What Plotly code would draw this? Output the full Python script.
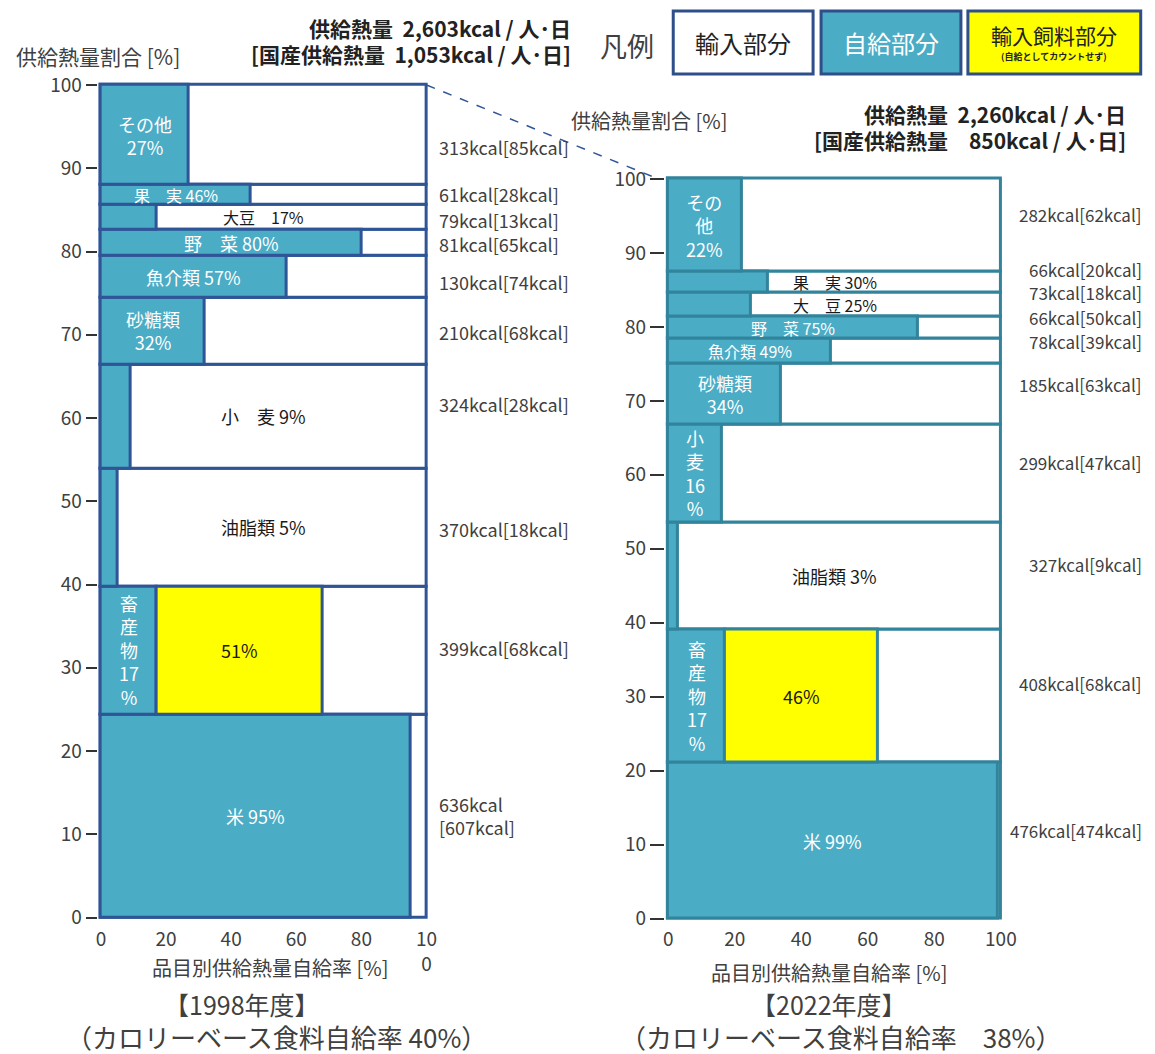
import plotly.graph_objects as go

# ---------------- data ----------------
categories = ["米", "畜産物", "油脂類", "小麦", "砂糖類", "魚介類", "野菜", "大豆", "果実", "その他"]

kcal_1998 = [636, 399, 370, 324, 210, 130, 81, 79, 61, 313]
domestic_1998 = [607, 68, 18, 28, 68, 74, 65, 13, 28, 85]
rate_1998 = [95, 17, 5, 9, 32, 57, 80, 17, 46, 27]
feed_1998 = [None, 51, None, None, None, None, None, None, None, None]
labels_1998 = ["米 95%", "畜<br>産<br>物<br>17<br>%", "油脂類 5%", "小　麦 9%", "砂糖類<br>32%",
               "魚介類 57%", "野　菜 80%", "大豆　17%", "果　実 46%", "その他<br>27%"]
label_on_blue_1998 = [True, True, False, False, True, True, True, False, True, True]
kcal_text_1998 = ["636kcal<br>[607kcal]", "399kcal[68kcal]", "370kcal[18kcal]", "324kcal[28kcal]",
                  "210kcal[68kcal]", "130kcal[74kcal]", "81kcal[65kcal]", "79kcal[13kcal]",
                  "61kcal[28kcal]", "313kcal[85kcal]"]

kcal_2022 = [476, 408, 327, 299, 185, 78, 66, 73, 66, 282]
domestic_2022 = [474, 68, 9, 47, 63, 39, 50, 18, 20, 62]
rate_2022 = [99, 17, 3, 16, 34, 49, 75, 25, 30, 22]
feed_2022 = [None, 46, None, None, None, None, None, None, None, None]
labels_2022 = ["米 99%", "畜<br>産<br>物<br>17<br>%", "油脂類 3%", "小<br>麦<br>16<br>%", "砂糖類<br>34%",
               "魚介類 49%", "野　菜 75%", "大　豆 25%", "果　実 30%", "その<br>他<br>22%"]
label_on_blue_2022 = [True, True, False, True, True, True, True, False, False, True]
kcal_text_2022 = ["476kcal[474kcal]", "408kcal[68kcal]", "327kcal[9kcal]", "299kcal[47kcal]",
                  "185kcal[63kcal]", "78kcal[39kcal]", "66kcal[50kcal]", "73kcal[18kcal]",
                  "66kcal[20kcal]", "282kcal[62kcal]"]

total_1998, domestic_total_1998, overall_1998 = "2,603", "1,053", 40
total_2022, domestic_total_2022, overall_2022 = "2,260", "850", 38

x_ticks = [0, 20, 40, 60, 80, 100]
x_ticktext_1998 = ["0", "20", "40", "60", "80", "10<br>0"]
x_ticktext_2022 = ["0", "20", "40", "60", "80", "100"]
y_ticks = [0, 10, 20, 30, 40, 50, 60, 70, 80, 90, 100]

# ---------------- style / layout ----------------
W, H = 1155, 1054
# the photographed page shows the figure slightly scaled and shifted; compensate
S, OX, OY = 0.989, 0.0, 7.0
FONT = "Noto Sans CJK JP"
BLUE = "#4BACC6"
YELLOW = "#FFFF00"
TXT = "#404040"
EDGE_L = "#2F5597"
EDGE_R = "#31849B"
PAD = 1.0

# pixel frames of the two plots (position of data 0 and 100), picture coordinates
LEFT = dict(x0=99, x100=425, y0=917, y100=84)
RIGHT = dict(x0=667, x100=1000, y0=918, y100=178)

# per-row vertical nudges of the kcal labels (pixels, positive = up)
kcal_dy_left = [0, 2, -2, 12, -1, -5, -1, -3, 1, -12]
kcal_dy_right = [10, 13, 11, 11, 10, 10, 10, 12, 13, 11]


def px(x):
    return ((x - OX) / S) / W


def py(y):
    return 1 - ((y - OY) / S) / H


def domains(f):
    sx = (f["x100"] - f["x0"]) / 100
    sy = (f["y0"] - f["y100"]) / 100
    xd = [px(f["x0"] - PAD * sx), px(f["x100"] + PAD * sx)]
    yd = [py(f["y0"] + PAD * sy), py(f["y100"] - PAD * sy)]
    return xd, yd


fig = go.Figure()
annotations = []


def add_panel(kcal, rate, feed, labels, on_blue, ktext, xa, ya, edge, kx, kanchor, kdy, ksize, small_rows):
    total = sum(kcal)
    heights = [k / total * 100 for k in kcal]
    centers = []
    acc = 0
    for h in heights:
        centers.append(acc + h / 2)
        acc += h
    feed_base = [r if f is not None else None for r, f in zip(rate, feed)]
    common = dict(orientation="h", y=centers, width=heights, xaxis=xa, yaxis=ya,
                  hoverinfo="skip", showlegend=False)
    fig.add_trace(go.Bar(x=[100] * len(kcal), base=0,
                         marker=dict(color="white", line=dict(color=edge, width=3)), **common))
    fig.add_trace(go.Bar(x=rate, base=0,
                         marker=dict(color=BLUE, line=dict(color=edge, width=3)), **common))
    fig.add_trace(go.Bar(x=feed, base=feed_base,
                         marker=dict(color=YELLOW, line=dict(color=edge, width=3)), **common))
    xr = "x" if xa == "x" else "x2"
    yr = "y" if ya == "y" else "y2"
    for i in range(len(kcal)):
        fs = 16 if i in small_rows else 18
        if on_blue[i]:
            annotations.append(dict(x=rate[i] / 2, y=centers[i], xref=xr, yref=yr, text=labels[i],
                                    showarrow=False, font=dict(family=FONT, size=fs, color="white")))
        else:
            annotations.append(dict(x=50, y=centers[i], xref=xr, yref=yr, text=labels[i],
                                    showarrow=False, font=dict(family=FONT, size=fs, color="#1a1a1a")))
        if feed[i] is not None:
            annotations.append(dict(x=rate[i] + feed[i] / 2, y=centers[i], xref=xr, yref=yr,
                                    text=f"{feed[i]}%", showarrow=False,
                                    font=dict(family=FONT, size=18, color="#1a1a1a")))
        annotations.append(dict(x=px(kx), y=centers[i], xref="paper", yref=yr, text=ktext[i],
                                xanchor=kanchor, yshift=kdy[i], showarrow=False, align="left",
                                font=dict(family=FONT, size=ksize, color=TXT)))


add_panel(kcal_1998, rate_1998, feed_1998, labels_1998, label_on_blue_1998, kcal_text_1998,
          "x", "y", EDGE_L, 435, "left", kcal_dy_left, 18, [7, 8])
add_panel(kcal_2022, rate_2022, feed_2022, labels_2022, label_on_blue_2022, kcal_text_2022,
          "x2", "y2", EDGE_R, 1143, "right", kcal_dy_right, 17, [5, 6, 7, 8])

xd1, yd1 = domains(LEFT)
xd2, yd2 = domains(RIGHT)
axis_font = dict(family=FONT, size=19, color=TXT)

fig.update_layout(
    width=W, height=H, autosize=False,
    margin=dict(l=0, r=0, t=0, b=0),
    paper_bgcolor="white", plot_bgcolor="white",
    barmode="overlay", bargap=0,
    xaxis=dict(domain=xd1, range=[-PAD, 100 + PAD], tickvals=x_ticks, ticktext=x_ticktext_1998,
               showgrid=False, zeroline=False, showline=False, ticks="", tickfont=axis_font,
               anchor="y", fixedrange=True),
    yaxis=dict(domain=yd1, range=[-PAD, 100 + PAD], tickvals=y_ticks, showgrid=False, zeroline=False,
               showline=False, ticks="outside", ticklen=11, tickwidth=1.5, tickcolor="#333",
               tickfont=axis_font, anchor="x", fixedrange=True),
    xaxis2=dict(domain=xd2, range=[-PAD, 100 + PAD], tickvals=x_ticks, ticktext=x_ticktext_2022,
                showgrid=False, zeroline=False, showline=False, ticks="", tickfont=axis_font,
                anchor="y2", fixedrange=True),
    yaxis2=dict(domain=yd2, range=[-PAD, 100 + PAD], tickvals=y_ticks, showgrid=False, zeroline=False,
                showline=False, ticks="outside", ticklen=14, tickwidth=1.5, tickcolor="#333",
                tickfont=axis_font, anchor="x2", fixedrange=True),
)

# titles and headers
def text(x, y, t, size, color=TXT, anchor="center", bold=False):
    if bold:
        t = f"<b>{t}</b>"
    annotations.append(dict(x=px(x), y=py(y), xref="paper", yref="paper", text=t, showarrow=False,
                            xanchor=anchor, yanchor="middle", font=dict(family=FONT, size=size, color=color)))


text(12, 55, "供給熱量割合 [%]", 21, anchor="left")
text(572, 27, f"供給熱量  {total_1998}kcal / 人･日", 21, color="#222", anchor="right", bold=True)
text(572, 53, f"[国産供給熱量  {domestic_total_1998}kcal / 人･日]", 21, color="#222", anchor="right", bold=True)
text(568, 120, "供給熱量割合 [%]", 20, anchor="left")
text(1127, 113, f"供給熱量  {total_2022}kcal / 人･日", 21, color="#222", anchor="right", bold=True)
text(1127, 139, f"[国産供給熱量　{domestic_total_2022}kcal / 人･日]", 21, color="#222", anchor="right", bold=True)

text(268, 967, "品目別供給熱量自給率 [%]", 20)
text(240, 1003, "【1998年度】", 25)
text(275, 1036, f"（カロリーベース食料自給率 {overall_1998}%）", 26)
text(828, 972, "品目別供給熱量自給率 [%]", 20)
text(828, 1003, "【2022年度】", 25)
text(840, 1036, f"（カロリーベース食料自給率　{overall_2022}%）", 26)

# legend
text(626, 45, "凡例", 27)
shapes = []
LEG_EDGE = "#2E4F8A"
for (x0, x1, fill) in [(672, 812, "white"), (820, 960, BLUE), (967, 1140, YELLOW)]:
    shapes.append(dict(type="rect", xref="paper", yref="paper", x0=px(x0), x1=px(x1), y0=py(73), y1=py(10),
                       fillcolor=fill, line=dict(color=LEG_EDGE, width=3)))
text(742, 42, "輸入部分", 24, color="#222")
text(890, 42, "自給部分", 24, color="white")
text(1053, 34, "輸入飼料部分", 21, color="#222")
text(1053, 56, "<b>(自給としてカウントせず)</b>", 9, color="#222")

# dashed connector between the two charts
shapes.append(dict(type="line", xref="paper", yref="paper", x0=px(LEFT["x100"]), y0=py(LEFT["y100"]),
                   x1=px(652), y1=py(RIGHT["y100"] - 2), line=dict(color=EDGE_L, width=1.5, dash="dash")))

fig.update_layout(annotations=annotations, shapes=shapes)
fig.write_html("out.html")
